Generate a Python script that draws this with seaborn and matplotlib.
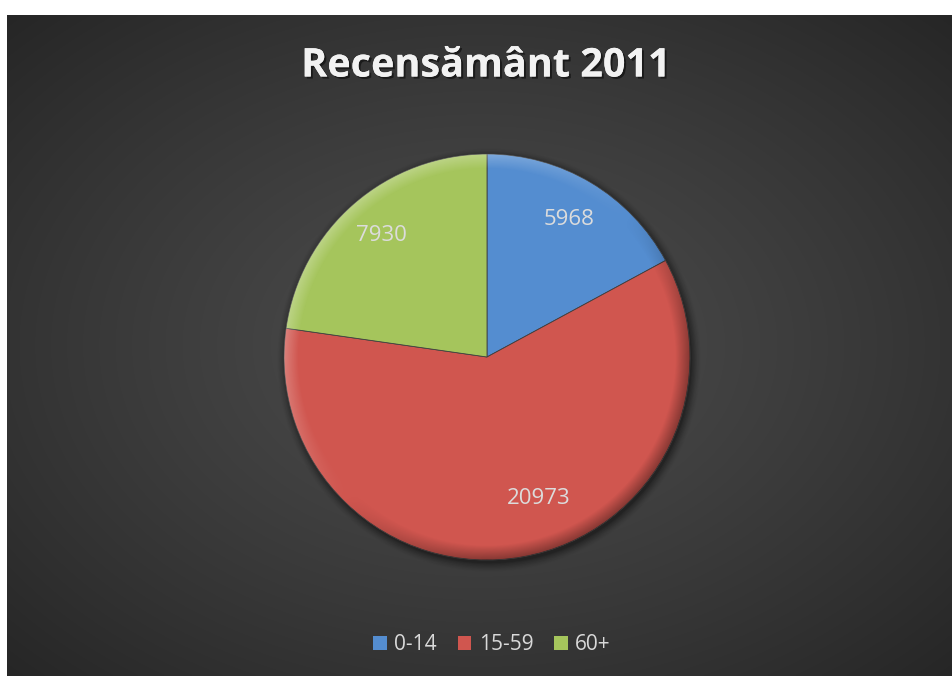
import numpy as np
import matplotlib
matplotlib.use("Agg")
import matplotlib.pyplot as plt
import matplotlib.patheffects as pe
from matplotlib.patches import Patch, Circle
import seaborn as sns

title = "Recensământ 2011"
categories = ["0-14", "15-59", "60+"]
values = [5968, 20973, 7930]
colors = ["#548dd0", "#d0564f", "#a5c55c"]

sns.set_theme(style="white")
plt.rcParams["font.family"] = ["Open Sans", "DejaVu Sans"]

W, H = 953, 677
fig = plt.figure(figsize=(W / 100, H / 100), dpi=100)
fig.patch.set_facecolor("white")

# dark radial-gradient background panel
bg = fig.add_axes([7 / W, 1 / H, 946 / W, 661 / H])
bg.set_axis_off()
yy, xx = np.mgrid[-1:1:300j, -1:1:420j]
r = np.sqrt(xx ** 2 + yy ** 2) / np.sqrt(2)
shade = 0.300 - 0.150 * np.clip(r, 0, 1) ** 1.2
img = np.dstack([shade, shade, shade])
bg.imshow(img, extent=[0, 1, 0, 1], aspect="auto", interpolation="bilinear")
bg.set_xlim(0, 1)
bg.set_ylim(0, 1)

# pie axes
R = 203
cx, cy = 487, 357
ax = fig.add_axes([(cx - R) / W, (H - cy - R) / H, 2 * R / W, 2 * R / H])

wedges, texts, autotexts = ax.pie(
    values,
    colors=colors,
    startangle=90,
    counterclock=False,
    radius=1.0,
    autopct=lambda p: f"{p * sum(values) / 100:.0f}",
    pctdistance=0.79,
    wedgeprops=dict(edgecolor="#404040", linewidth=0.6),
    textprops=dict(color="#dcdcdc", fontsize=16, family=["Open Sans", "DejaVu Sans"]),
)
ax.set_axis_off()
ax.set_aspect("auto")
for w in wedges:
    w.set_zorder(2)
for t in autotexts:
    t.set_zorder(5)

# large slice label sits a bit toward the right, like the original
w = wedges[1]
ang = np.deg2rad((w.theta1 + w.theta2) / 2 + 10)
autotexts[1].set_position((0.74 * np.cos(ang), 0.74 * np.sin(ang)))

# soft drop shadow behind the pie
for i, a in enumerate(np.linspace(0.10, 0.02, 8)):
    ax.add_patch(Circle((0.01, -0.015), 1.0 + 0.006 * i, color="black",
                        alpha=a, lw=0, zorder=1, clip_on=False))

# bevel shading overlay clipped to the pie disc
gy, gx = np.mgrid[1:-1:400j, -1:1:400j]
rr = np.sqrt(gx ** 2 + gy ** 2)
rim = np.clip((rr - 0.93) / 0.07, 0, 1)
dirn = (gx - gy) / np.maximum(rr, 1e-6)
over = np.zeros((400, 400, 4))
dark = np.clip(dirn, 0, 1) * rim * 0.35
light = np.clip(-dirn, 0, 1) * rim * 0.25
over[..., :3] = (light / np.maximum(light + dark, 1e-6))[..., None]
over[..., 3] = light + dark
im = ax.imshow(over, extent=[-1, 1, -1, 1], aspect="auto", zorder=3, interpolation="bilinear")
im.set_clip_path(Circle((0, 0), 1.0, transform=ax.transData))
ax.set_xlim(-1.0, 1.0)
ax.set_ylim(-1.0, 1.0)

# legend
handles = [Patch(facecolor=c, edgecolor="none") for c in colors]
leg = fig.legend(
    handles, categories,
    loc="center", bbox_to_anchor=(492 / W, 1 - 645 / H),
    ncol=3, frameon=False, fontsize=15,
    handlelength=0.65, handleheight=0.65, handletextpad=0.35, columnspacing=1.0,
)
for t in leg.get_texts():
    t.set_color("#d9d9d9")

fig.text(486 / W, 1 - 66 / H, title, ha="center", va="center",
         fontsize=28.5, fontweight="bold", color="#f2f2f2",
         path_effects=[pe.withSimplePatchShadow(offset=(1.5, -1.5), shadow_rgbFace="black", alpha=0.5), pe.Normal()])

fig.savefig("out.png", dpi=100, facecolor=fig.get_facecolor())
